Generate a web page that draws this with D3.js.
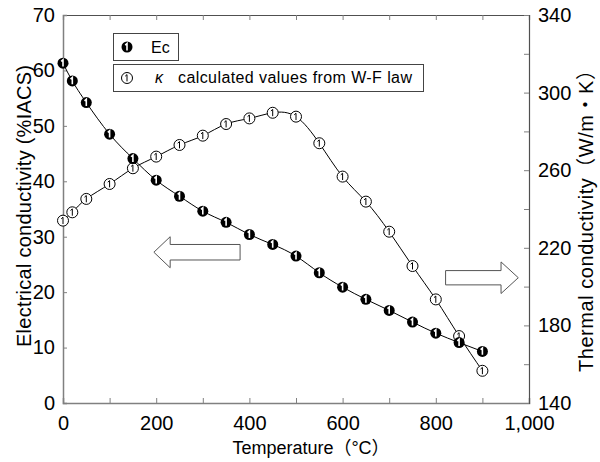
<!DOCTYPE html>
<html>
<head>
<meta charset="utf-8">
<script src="https://cdn.jsdelivr.net/npm/d3@7"></script>
<style>
  body { margin: 0; background: #fff; }
  svg { display: block; }
  text { font-family: "Liberation Sans", Arial, "Noto Sans CJK JP", sans-serif; fill: #000; }
</style>
</head>
<body>
<svg id="chart"></svg>
<script>
// data
const temperature = [0, 20, 50, 100, 150, 200, 250, 300, 350, 400, 450, 500, 550, 600, 650, 700, 750, 800, 850, 900];
const ecValues = [61.3, 58.1, 54.2, 48.5, 44.1, 40.2, 37.3, 34.6, 32.6, 30.4, 28.6, 26.5, 23.5, 20.9, 18.7, 16.7, 14.6, 12.6, 10.9, 9.3];
const kappaValues = [234, 238.3, 245.2, 252.9, 261, 267, 273, 277.8, 283.8, 286.7, 289.6, 287.6, 273.9, 256.7, 243.8, 228.3, 210.6, 193.4, 174.5, 156.6];
const xTicks = [0, 200, 400, 600, 800, 1000];
const leftTicks = [0, 10, 20, 30, 40, 50, 60, 70];
const rightTicks = [140, 180, 220, 260, 300, 340];

const width = 600;
const height = 462;
const margin = { top: 15, right: 71, bottom: 59, left: 63 };

const svg = d3.select("#chart").attr("width", width).attr("height", height);

const x = d3.scaleLinear().domain([0, 1000]).range([margin.left, width - margin.right]);
const yL = d3.scaleLinear().domain([0, 70]).range([height - margin.bottom, margin.top]);
const yR = d3.scaleLinear().domain([140, 340]).range([height - margin.bottom, margin.top]);

// axes
const bottomAxis = svg.append("g")
    .attr("transform", "translate(0," + (height - margin.bottom) + ")")
    .call(d3.axisBottom(x).tickValues(d3.range(0, 1001, 100)).tickSize(-5).tickPadding(13)
        .tickFormat(d => xTicks.includes(d) ? d3.format(",")(d) : ""));

const topAxis = svg.append("g")
    .attr("transform", "translate(0," + margin.top + ")")
    .call(d3.axisTop(x).tickValues(d3.range(0, 1001, 100)).tickSize(-5).tickFormat(""));

const leftAxis = svg.append("g")
    .attr("transform", "translate(" + margin.left + ",0)")
    .call(d3.axisLeft(yL).tickValues(leftTicks).tickSize(-4).tickPadding(8));

const rightAxis = svg.append("g")
    .attr("transform", "translate(" + (width - margin.right) + ",0)")
    .call(d3.axisRight(yR).tickValues(d3.range(140, 341, 20)).tickSize(-5).tickPadding(9)
        .tickFormat(d => rightTicks.includes(d) ? d : ""));

[bottomAxis, leftAxis].forEach(a => {
    a.select(".domain").attr("stroke", "#808080").attr("stroke-width", 1.5);
    a.selectAll(".tick line").attr("stroke", "#808080");
});
[topAxis, rightAxis].forEach(a => {
    a.select(".domain").attr("stroke", "#505050").attr("stroke-width", 1.2);
    a.selectAll(".tick line").attr("stroke", "#808080");
});
svg.selectAll(".tick text").attr("font-size", 20).attr("font-family", "Liberation Sans, Arial, sans-serif");
bottomAxis.selectAll(".tick text").attr("dy", "0.71em");

// axis titles
svg.append("text")
    .attr("transform", "translate(31,206) rotate(-90)")
    .attr("text-anchor", "middle")
    .attr("font-size", 20)
    .attr("textLength", 282)
    .text("Electrical conductivity (%IACS)");

svg.append("text")
    .attr("transform", "translate(593,216) rotate(-90)")
    .attr("text-anchor", "middle")
    .attr("font-size", 20)
    .attr("textLength", 312)
    .text("Thermal conductivity（W/m・K）");

svg.append("text")
    .attr("x", 311)
    .attr("y", 454)
    .attr("text-anchor", "middle")
    .attr("font-size", 18)
    .text("Temperature（°C）");

// arrows (annotation, in data units of the left axis)
const arrowLeft = { tip: 195, neck: 230, tail: 380, y: 27.2, body: 1.4, head: 2.8 };
const arrowRight = { tip: 977, neck: 940, tail: 821, y: 22.6, body: 1.29, head: 2.85 };
[arrowLeft, arrowRight].forEach(a => {
    const pts = [
        [a.tail, a.y + a.body], [a.neck, a.y + a.body], [a.neck, a.y + a.head], [a.tip, a.y],
        [a.neck, a.y - a.head], [a.neck, a.y - a.body], [a.tail, a.y - a.body]
    ].map(p => [x(p[0]), yL(p[1])]);
    svg.append("polygon")
        .attr("points", pts.map(p => p.join(",")).join(" "))
        .attr("fill", "#fff")
        .attr("stroke", "#555")
        .attr("stroke-width", 1);
});

// lines
const ecLine = d3.line()
    .x((d, i) => x(temperature[i]))
    .y(d => yL(d))
    .curve(d3.curveNatural);
const kappaLine = d3.line()
    .x((d, i) => x(temperature[i]))
    .y(d => yR(d))
    .curve(d3.curveNatural);

svg.append("path").datum(kappaValues)
    .attr("d", kappaLine).attr("fill", "none").attr("stroke", "#000").attr("stroke-width", 1);
svg.append("path").datum(ecValues)
    .attr("d", ecLine).attr("fill", "none").attr("stroke", "#000").attr("stroke-width", 1);

// markers: circled "1" glyphs
const oneGlyph = "M-1.8,-1.8 L0,-3.4 L0,3.4";
const r = 5.5;

function openMarker(g) {
    g.append("circle").attr("r", r).attr("fill", "#fff").attr("stroke", "#000").attr("stroke-width", 1);
    g.append("path").attr("d", oneGlyph).attr("fill", "none").attr("stroke", "#000").attr("stroke-width", 1);
}
function filledMarker(g) {
    g.append("circle").attr("r", r).attr("fill", "#000");
    g.append("path").attr("d", oneGlyph).attr("fill", "none").attr("stroke", "#fff").attr("stroke-width", 1.6);
}

svg.append("g").selectAll("g")
    .data(kappaValues)
    .enter()
    .append("g")
    .attr("transform", (d, i) => "translate(" + x(temperature[i]) + "," + yR(d) + ")")
    .each(function() { openMarker(d3.select(this)); });

svg.append("g").selectAll("g")
    .data(ecValues)
    .enter()
    .append("g")
    .attr("transform", (d, i) => "translate(" + x(temperature[i]) + "," + yL(d) + ")")
    .each(function() { filledMarker(d3.select(this)); });

// legend
const legend = svg.append("g");
legend.append("rect").attr("x", 113.5).attr("y", 33.5).attr("width", 65).attr("height", 27)
    .attr("fill", "#fff").attr("stroke", "#444");
legend.append("rect").attr("x", 113.5).attr("y", 64.5).attr("width", 310).attr("height", 27)
    .attr("fill", "#fff").attr("stroke", "#444");
filledMarker(legend.append("g").attr("transform", "translate(127,47)"));
openMarker(legend.append("g").attr("transform", "translate(127,78)"));
legend.append("text").attr("x", 151).attr("y", 53).attr("font-size", 16).text("Ec");
legend.append("text").attr("x", 155).attr("y", 83).attr("font-size", 16)
    .attr("font-style", "italic").text("κ");
legend.append("text").attr("x", 178).attr("y", 83).attr("font-size", 16)
    .attr("textLength", 234).text("calculated values from W-F law");
</script>
</body>
</html>
